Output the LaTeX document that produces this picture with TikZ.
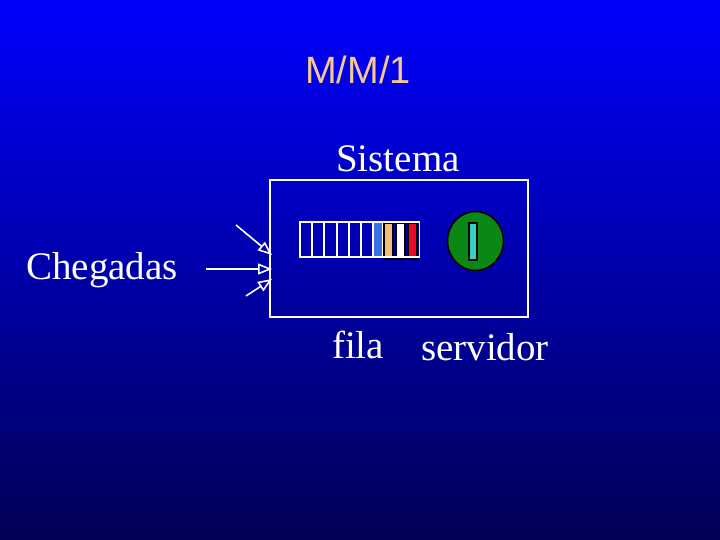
\documentclass[tikz,border=0pt]{standalone}
\usepackage{fontspec}
\setmainfont{Liberation Serif}
\newfontfamily\titlefont{Liberation Sans}
\usetikzlibrary{arrows.meta,shapes.geometric}
\definecolor{bgtop}{RGB}{0,0,255}
\definecolor{bgmid}{RGB}{0,0,170}
\definecolor{bgbot}{RGB}{0,0,85}
\definecolor{titlecol}{RGB}{245,200,145}
\definecolor{cellblue}{RGB}{60,110,230}
\definecolor{celltan}{RGB}{240,190,120}
\definecolor{cellred}{RGB}{235,10,40}
\definecolor{srvgreen}{RGB}{10,135,20}
\definecolor{srvcyan}{RGB}{50,210,190}
\tikzset{
  lbl/.style={text=white,font=\fontsize{39}{42}\selectfont,inner sep=0pt,anchor=base},
  wline/.style={draw=white,line width=1.6pt},
  arr/.style={draw=white,line width=1.6pt,-{Triangle[open,length=14pt,width=11pt,fill=bgmid]}},
  qcell/.style={draw=white,line width=1.6pt},
  bcell/.style={draw=black,line width=1.6pt}
}
\begin{document}
\begin{tikzpicture}[x=1pt,y=-1pt]
\shade[top color=bgtop,bottom color=bgbot,middle color=bgmid] (0,0) rectangle (720,540);
\useasboundingbox (0,0) rectangle (720,540);
% title
\node (title) [text=titlecol,font=\titlefont\fontsize{38}{40}\selectfont,inner sep=0pt] at (358,70) {M/M/1};
% system box
\node (sys) [wline,minimum width=258pt,minimum height=137pt,inner sep=0pt] at (399,248.5) {};
\node (sistema) [lbl] at (398,172) {Sistema};
\node (cheg) [lbl] at (102,279) {Chegadas};
\node (fila) [lbl] at (358,358) {fila};
\node (serv) [lbl] at (485,360) {servidor};
% queue
\foreach \a/\b in {300/312,312/324,324/337,337/349,349/361,361/373}{
  \draw[qcell] (\a,222) rectangle (\b,257);
}
\draw[qcell,fill=cellblue] (373,222) rectangle (383,257);
\draw[bcell,fill=celltan] (384,223) rectangle (393,259);
\draw[bcell,fill=white] (396,223) rectangle (405,259);
\draw[bcell,fill=cellred] (408,223) rectangle (417,259);
\node (queue) [draw=white,line width=1.6pt,minimum width=120pt,minimum height=35pt,inner sep=0pt] at (359.5,239.5) {};
% server
\node (server) [ellipse,draw=black,line width=1.6pt,fill=srvgreen,minimum width=56pt,minimum height=59pt,inner sep=0pt] at (475.5,241) {};
\node (servbar) [draw=black,line width=1.4pt,fill=srvcyan,minimum width=8pt,minimum height=37pt,inner sep=0pt] at (473,241.5) {};
% arrows
\coordinate (a1) at (236,225);
\coordinate (a2) at (206,269);
\coordinate (a3) at (246,296);
\coordinate (e1) at (272,255);
\coordinate (e2) at (272,269);
\coordinate (e3) at (272,279);
\draw[arr] (a1) -- (e1);
\draw[arr] (a2) -- (e2);
\draw[arr] (a3) -- (e3);
\end{tikzpicture}
\end{document}
